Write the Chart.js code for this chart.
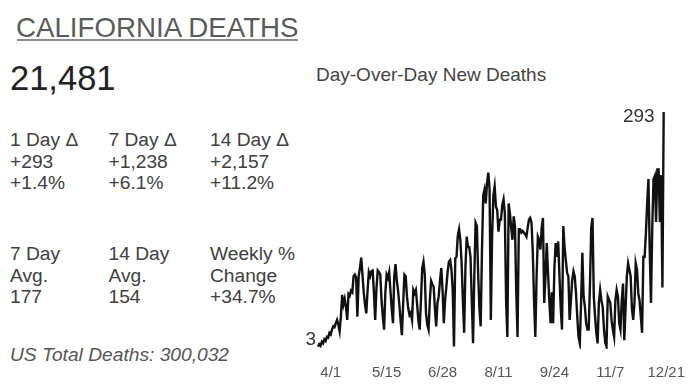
<!DOCTYPE html>
<html>
<head>
<meta charset="utf-8">
<script src="https://cdn.jsdelivr.net/npm/chart.js@4.4.0/dist/chart.umd.min.js"></script>
<style>
html,body{margin:0;padding:0;background:#fff;width:700px;height:389px;overflow:hidden;font-family:"Liberation Sans",Arial,sans-serif;}
.t{position:absolute;white-space:nowrap;}
.st{position:absolute;white-space:nowrap;font-size:19.2px;line-height:21.7px;color:#404040;}
</style>
</head>
<body>
<div class="t" style="left:16px;top:14px;font-size:27.7px;line-height:27.7px;color:#5a5a5a;">CALIFORNIA DEATHS</div>
<div style="position:absolute;left:17px;top:39px;width:281px;height:2px;background:#8c8c8c;"></div>
<div class="t" style="left:10px;top:61px;font-size:34.5px;line-height:34px;color:#222;">21,481</div>

<div class="st" style="left:10px;top:129px;">1 Day Δ<br>+293<br>+1.4%</div>
<div class="st" style="left:108.5px;top:129px;">7 Day Δ<br>+1,238<br>+6.1%</div>
<div class="st" style="left:210px;top:129px;">14 Day Δ<br>+2,157<br>+11.2%</div>

<div class="st" style="left:10px;top:243px;">7 Day<br>Avg.<br>177</div>
<div class="st" style="left:108.5px;top:243px;">14 Day<br>Avg.<br>154</div>
<div class="st" style="left:210px;top:243px;">Weekly %<br>Change<br>+34.7%</div>

<div class="st" style="left:10px;top:344px;font-style:italic;color:#555;">US Total Deaths: 300,032</div>

<div class="t" style="left:316px;top:64px;font-size:19px;line-height:22px;color:#444;">Day-Over-Day New Deaths</div>

<div style="position:absolute;left:300px;top:100px;width:400px;height:289px;">
<canvas id="c"></canvas>
</div>

<script>
// Daily new deaths, starting 3/22
const startDate = [2020, 2, 22];
const dayCount = 275; // category slots 3/22 .. 12/21
const newDeaths = [
  3,6,4,9,7,12,10,15,14,20,
  18,24,28,27,32,36,30,22,40,67,
  55,62,52,36,68,66,72,70,90,92,
  88,40,90,100,113,92,70,55,44,72,
  95,90,96,97,70,36,75,97,95,92,
  60,40,24,70,92,88,95,72,50,32,
  90,105,85,72,55,35,17,55,92,90,
  65,50,42,45,36,73,69,73,55,35,
  24,60,100,108,92,44,30,24,60,84,
  80,77,50,28,57,65,85,100,73,32,
  60,77,95,108,110,98,73,3,112,114,
  140,148,135,106,60,20,100,139,126,126,
  114,60,7,90,156,152,94,50,28,120,
  190,197,180,205,218,197,36,140,190,201,
  176,172,145,160,160,178,185,168,60,15,
  180,168,150,135,164,152,70,15,148,148,
  144,146,144,142,139,150,160,162,156,120,
  60,15,90,139,135,123,150,162,57,90,
  131,94,60,32,70,32,100,131,114,133,
  90,50,24,152,126,110,94,90,36,60,
  85,96,90,69,40,15,7,57,119,65,
  52,32,24,24,80,150,162,65,40,20,
  7,57,73,60,52,25,8,3,65,61,
  57,35,24,15,60,73,65,32,24,60,
  81,11,50,90,106,98,90,50,36,57,
  106,98,69,60,40,20,114,114,143,180,
  210,123,57,150,210,214,157,222,222,157,
  215,76,293
];
const tickLabels = ['4/1','5/15','6/28','8/11','9/24','11/7','12/21'];

const dateLabels = [];
for (let i = 0; i < dayCount; i++) {
  const d = new Date(startDate[0], startDate[1], startDate[2] + i);
  dateLabels.push((d.getMonth() + 1) + '/' + d.getDate());
}

const FONT = '"Liberation Sans", Arial, sans-serif';

const endLabels = {
  id: 'endLabels',
  afterDatasetsDraw(chart) {
    const meta = chart.getDatasetMeta(0);
    const pts = meta.data;
    const first = pts[0], last = pts[pts.length - 1];
    const ctx = chart.ctx;
    ctx.save();
    ctx.font = '19px ' + FONT;
    ctx.fillStyle = '#333';
    ctx.textAlign = 'right';
    ctx.textBaseline = 'alphabetic';
    ctx.fillText(String(newDeaths[0]), first.x - 2, first.y - 2);
    ctx.fillText(String(newDeaths[newDeaths.length - 1]), last.x - 9, last.y + 10);
    ctx.restore();
  }
};

new Chart(document.getElementById('c'), {
  type: 'line',
  data: {
    labels: dateLabels,
    datasets: [{
      data: newDeaths,
      borderColor: '#111',
      borderWidth: 2.4,
      pointRadius: 0,
      tension: 0,
      fill: false
    }]
  },
  options: {
    responsive: true,
    maintainAspectRatio: false,
    animation: false,
    devicePixelRatio: 1,
    layout: { padding: { left: 18, right: 30, top: 12, bottom: 0 } },
    plugins: { legend: { display: false }, tooltip: { enabled: false } },
    scales: {
      x: {
        type: 'category',
        offset: false,
        grid: { display: false, drawTicks: false },
        border: { display: false },
        ticks: {
          autoSkip: false,
          maxRotation: 0,
          minRotation: 0,
          padding: 15,
          color: '#555',
          font: { size: 15, family: FONT }
        },
        afterBuildTicks: (scale) => {
          scale.ticks = scale.ticks.filter(t => tickLabels.includes(dateLabels[t.value]));
        },
        afterFit: (scale) => { scale.height = 40; }
      },
      y: { display: false, min: 0, max: 293 }
    }
  },
  plugins: [endLabels]
});
</script>
</body>
</html>
